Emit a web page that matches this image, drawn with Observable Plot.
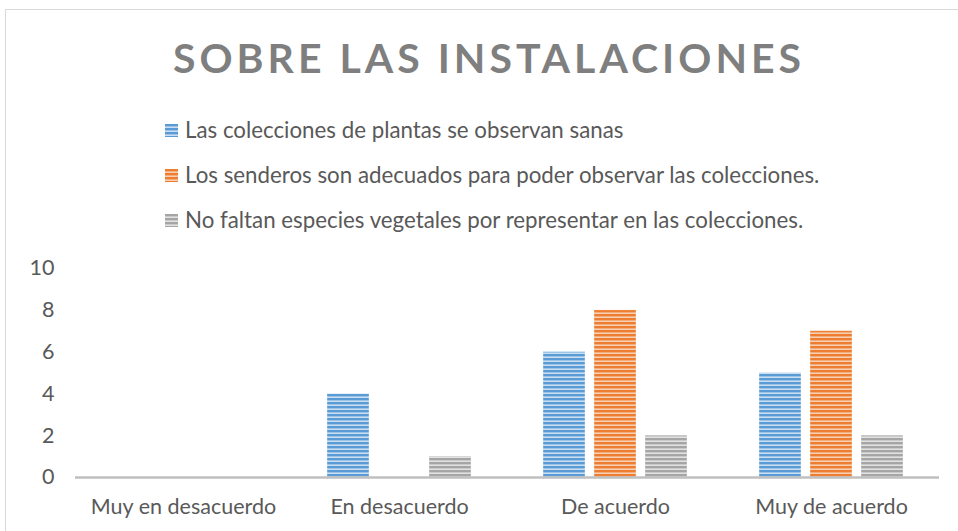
<!DOCTYPE html>
<html>
<head>
<meta charset="utf-8">
<script src="https://cdn.jsdelivr.net/npm/d3@7"></script>
<script src="https://cdn.jsdelivr.net/npm/@observablehq/plot@0.6"></script>
<style>
  html, body { margin: 0; padding: 0; background: #fff; }
  body { width: 958px; height: 531px; overflow: hidden; position: relative; font-family: Lato, "Open Sans", sans-serif; color: #595959; }
  #frame { position: absolute; left: 5px; top: 9px; width: 960px; height: 540px; border-left: 1.5px solid #d9d9d9; border-top: 1.5px solid #d9d9d9; }
  #title { position: absolute; left: 0; width: 978px; top: 34px; text-align: center; font-size: 41px; line-height: 48px; font-weight: bold; letter-spacing: 4px; color: #7f7f7f; }
  #legend { position: absolute; left: 165px; top: 117px; font-size: 22.3px; color: #595959; }
  .item { height: 45px; line-height: 26px; display: flex; align-items: flex-start; }
  .sw { width: 13px; height: 13px; margin-right: 7px; margin-top: 7px; flex: none; }
  #chart { position: absolute; left: 0; top: 250px; }
</style>
</head>
<body>
<svg width="0" height="0" style="position:absolute">
  <defs>
    <pattern id="p0" patternUnits="userSpaceOnUse" width="8" height="4"><rect width="8" height="4" fill="#c9def2"/><rect width="8" height="2.4" fill="#5b9bd5"/></pattern>
    <pattern id="p1" patternUnits="userSpaceOnUse" width="8" height="4"><rect width="8" height="4" fill="#f8cfb2"/><rect width="8" height="2.4" fill="#ed7d31"/></pattern>
    <pattern id="p2" patternUnits="userSpaceOnUse" width="8" height="4"><rect width="8" height="4" fill="#e2e2e2"/><rect width="8" height="2.4" fill="#a5a5a5"/></pattern>
  </defs>
</svg>
<div id="frame"></div>
<div id="title">SOBRE LAS INSTALACIONES</div>
<div id="legend"></div>
<div id="chart"></div>
<script>
const categories = ["Muy en desacuerdo", "En desacuerdo", "De acuerdo", "Muy de acuerdo"];
const seriesNames = [
  "Las colecciones de plantas se observan sanas",
  "Los senderos son adecuados para poder observar las colecciones.",
  "No faltan especies vegetales por representar en las colecciones."
];
const plantasSanas = [0, 4, 6, 5];
const senderos = [0, 0, 8, 7];
const especies = [0, 1, 2, 2];
const yTicks = [0, 2, 4, 6, 8, 10];
const patterns = ["url(#p0)", "url(#p1)", "url(#p2)"];

const seriesValues = [plantasSanas, senderos, especies];
const data = [];
categories.forEach((c, i) => {
  seriesNames.forEach((s, j) => data.push({category: c, series: s, value: seriesValues[j][i]}));
});

const legend = document.getElementById("legend");
seriesNames.forEach((s, j) => {
  const d = document.createElement("div");
  d.className = "item";
  d.innerHTML = `<svg class="sw" width="13" height="13"><rect width="13" height="13" fill="${patterns[j]}"/></svg><span>${s}</span>`;
  legend.appendChild(d);
});

const chart = Plot.plot({
  width: 958,
  height: 281,
  marginLeft: 73,
  marginRight: 18,
  marginTop: 18,
  marginBottom: 54,
  style: {fontFamily: "Lato, 'Open Sans', sans-serif", fontSize: "21.5px", color: "#595959", background: "transparent"},
  fx: {domain: categories, padding: 0, label: null, tickSize: 0, tickPadding: 21, axis: "bottom"},
  x: {domain: seriesNames, axis: null, paddingInner: 0.173, paddingOuter: 0.67},
  y: {domain: [0, 10], ticks: yTicks, label: null, tickSize: 0, tickPadding: 21, tickFormat: d3.format("d")},
  color: {domain: seriesNames, range: patterns},
  marks: [
    Plot.barY(data, {fx: "category", x: "series", y: "value", fill: "series", stroke: d => d.value > 0 ? "#ffffff" : "none", strokeOpacity: 0.4, strokeWidth: 0.8}),
    Plot.ruleY([0], {stroke: "#bfbfbf", strokeWidth: 2.5})
  ]
});
document.getElementById("chart").appendChild(chart);
</script>
</body>
</html>
